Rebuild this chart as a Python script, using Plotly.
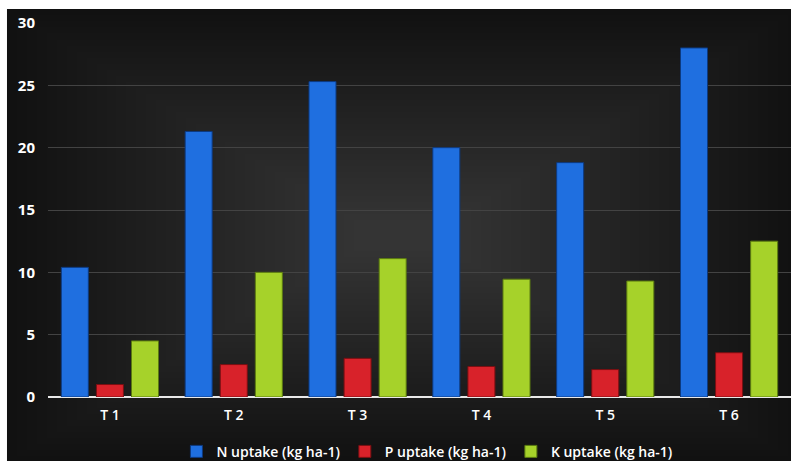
import plotly.graph_objects as go

categories = ["T 1", "T 2", "T 3", "T 4", "T 5", "T 6"]
n_uptake = [10.4, 21.3, 25.3, 20.0, 18.8, 28.0]
p_uptake = [1.0, 2.6, 3.1, 2.45, 2.2, 3.55]
k_uptake = [4.5, 10.0, 11.1, 9.45, 9.3, 12.5]
series_names = ["N uptake (kg ha-1)", "P uptake (kg ha-1)", "K uptake (kg ha-1)"]
y_ticks = [0, 5, 10, 15, 20, 25, 30]

colors = ["#1f6fe0", "#d8222a", "#a6d22a"]
edges = ["#0d3a80", "#7a0f12", "#5a7a10"]

fig = go.Figure()
for name, vals, c, e in zip(series_names, [n_uptake, p_uptake, k_uptake], colors, edges):
    fig.add_trace(go.Bar(
        x=categories, y=vals, name=name,
        marker=dict(color=c, line=dict(color=e, width=1)),
    ))

# dark background with soft glow toward centre
shapes = [dict(type="rect", xref="paper", yref="paper",
               x0=-0.0552, x1=1.01, y0=-0.175, y1=1.0374,
               fillcolor="#101010", line=dict(width=0), layer="below")]
n = 36
for i in range(n):
    f = i / n
    shapes.append(dict(type="rect", xref="paper", yref="paper",
                       x0=-0.0552 + f * 0.48, x1=1.01 - f * 0.48,
                       y0=-0.175 + f * 0.58, y1=1.0374 - f * 0.58,
                       fillcolor="rgba(255,255,255,0.0062)", line=dict(width=0), layer="below"))

fig.update_layout(
    width=791, height=461,
    margin=dict(l=48, r=0, t=23, b=64, autoexpand=False),
    paper_bgcolor="white",
    plot_bgcolor="rgba(0,0,0,0)",
    barmode="group",
    bargap=0.15,
    bargroupgap=0.23,
    shapes=shapes,
    font=dict(family="Open Sans", color="white"),
    showlegend=True,
    legend=dict(orientation="h", x=0.51, xanchor="center", yref="container", y=0.02, yanchor="middle",
                font=dict(size=14, color="white", weight=600), bgcolor="rgba(0,0,0,0)",
                itemwidth=30, tracegroupgap=0),
    xaxis=dict(showgrid=False, tickfont=dict(size=14, color="white", family="Open Sans", weight=600),
               ticks="", showline=False, zeroline=False, ticklabelstandoff=8, automargin=False),
    yaxis=dict(range=[0, 30], tickvals=y_ticks, showgrid=True, gridcolor="#434343",
               gridwidth=1, zeroline=True, zerolinecolor="#e8e8e8", zerolinewidth=2,
               tickfont=dict(size=15, color="white", family="Open Sans", weight=700),
               ticks="", ticklabelstandoff=12, showline=False, automargin=False),
)

fig.write_html("out.html")
